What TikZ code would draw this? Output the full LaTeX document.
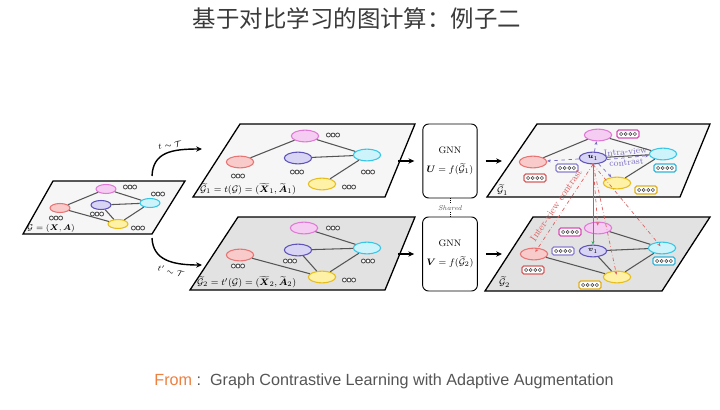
\documentclass[tikz,border=0pt]{standalone}
\usepackage{amsmath}
\usepackage{fontspec}
\usepackage{tikz}
\usetikzlibrary{shapes.geometric,arrows.meta,positioning}
\newfontfamily\cjk{Noto Sans CJK SC}
\newfontfamily\footfont{Liberation Sans}
\definecolor{TitleGray}{HTML}{3A3A3A}
\definecolor{FootGray}{HTML}{555555}
\definecolor{FromOrange}{HTML}{EE8040}
\definecolor{PlateLight}{HTML}{F6F6F6}
\definecolor{PlateGray}{HTML}{E2E2E2}
\definecolor{EdgeGray}{HTML}{555555}
\definecolor{DotGray}{HTML}{4A4A4A}
\definecolor{PinkLine}{HTML}{E07AD6}
\definecolor{PinkFill}{HTML}{F6CDF2}
\definecolor{RedLine}{HTML}{E87474}
\definecolor{RedFill}{HTML}{F9CACA}
\definecolor{PurpleLine}{HTML}{5E54B8}
\definecolor{PurpleFill}{HTML}{D8D4F4}
\definecolor{CyanLine}{HTML}{38C6E6}
\definecolor{CyanFill}{HTML}{CDF3FB}
\definecolor{YellowLine}{HTML}{E6BE1E}
\definecolor{YellowFill}{HTML}{FFF1A6}
\definecolor{BoxPink}{HTML}{D64FB4}
\definecolor{BoxRed}{HTML}{D65E5E}
\definecolor{BoxPurple}{HTML}{8A7ED0}
\definecolor{BoxCyan}{HTML}{2FB5D9}
\definecolor{BoxYellow}{HTML}{E0AE1A}
\definecolor{IntraPurple}{HTML}{7A6CC4}
\definecolor{InterRed}{HTML}{E06060}
\definecolor{InterGreen}{HTML}{2DAA5A}
\tikzset{
  % Panels
  plate/.style={draw=black,line width=1.1pt,fill=PlateLight},
  plateD/.style={plate,fill=PlateGray},
  % Base vertex
  VX/.style={ellipse,draw,line width=0.9pt,inner sep=0pt,
             minimum width=0.82cm,minimum height=0.35cm,
             font=\fontsize{6.5}{7}\selectfont},
  sm/.style={minimum width=0.6cm,minimum height=0.27cm},
  % Colour variants
  vP/.style={VX,fill=PinkFill,  draw=PinkLine},
  vR/.style={VX,fill=RedFill,   draw=RedLine},
  vU/.style={VX,fill=PurpleFill,draw=PurpleLine},
  vC/.style={VX,fill=CyanFill,  draw=CyanLine},
  vY/.style={VX,fill=YellowFill,draw=YellowLine},
  % Edges and arrows
  lnk/.style={draw=EdgeGray,line width=0.9pt},
  arr/.style={-{Stealth[length=5pt,width=4.5pt]},line width=1.2pt},
  intra/.style={-{Stealth[length=3pt,width=2.5pt]},dashed,IntraPurple,line width=0.6pt},
  inter/.style={-{Stealth[length=3pt,width=2.5pt]},dash dot,InterRed,line width=0.6pt},
  % Encoder box
  gnn/.style={draw,rounded corners=5pt,line width=0.8pt,
              minimum width=1.32cm,minimum height=2.22cm,
              align=center,font=\fontsize{8}{9}\selectfont},
  % Labels
  lbl/.style={anchor=west,inner sep=0pt,font=\fontsize{8}{9}\selectfont},
  % Feature vectors
  pics/trio/.style={code={
    \foreach \dx in {-4.6,0,4.6}
      \draw[DotGray,fill=white,line width=0.7pt] (\dx,0) circle (2);
  }},
  pics/quad/.style={code={
    \draw[#1,fill=white,line width=1.1pt,rounded corners=1.5pt] (-11,-4) rectangle (11,4);
    \foreach \dx in {-6.9,-2.3,2.3,6.9}
      \draw[DotGray,fill=white,line width=0.5pt] (\dx,0) circle (1.6);
  }}
}
\begin{document}
\begin{tikzpicture}[x=0.03cm,y=-0.03cm]
  \useasboundingbox[fill=white] (0,0) rectangle (720,409);

  % title and source
  \node[font=\cjk\fontsize{20}{24}\selectfont,text=TitleGray] (title) at (357,18) {基于对比学习的图计算：例子二};
  \node[font=\footfont\fontsize{13.8}{16}\selectfont,text=FootGray] (source) at (384,381)
       {{\color{FromOrange}From} :\ \ Graph Contrastive Learning with Adaptive Augmentation};

  % panels
  \draw[plate]  (53,181) -- (185,181) -- (152,234) -- (23,234) -- cycle;
  \draw[plate]  (240,124) -- (415,124) -- (385,197) -- (193,197) -- cycle;
  \draw[plateD] (238,217) -- (415,217) -- (385,290) -- (190,290) -- cycle;
  \draw[plate]  (537,124) -- (710,124) -- (680,197) -- (487,197) -- cycle;
  \draw[plateD] (533,217) -- (710,217) -- (662,291) -- (485,291) -- cycle;

  % feature vectors
  \pic at (130,187) {trio}; \pic at (158,194) {trio}; \pic at (56,218) {trio};
  \pic at (97,214) {trio};  \pic at (138,228) {trio};
  \pic at (333,135) {trio}; \pic at (238,176) {trio}; \pic at (297,172) {trio};
  \pic at (368,172) {trio}; \pic at (349,187) {trio};
  \pic at (333,228) {trio}; \pic at (238,266) {trio}; \pic at (290,261) {trio};
  \pic at (368,261) {trio}; \pic at (349,280) {trio};
  \pic at (628,134) {quad=BoxPink};   \pic at (567,168) {quad=BoxPurple};
  \pic at (535,178) {quad=BoxRed};    \pic at (665,168) {quad=BoxCyan};
  \pic at (646,190) {quad=BoxYellow};
  \pic at (570,232) {quad=BoxPink};   \pic at (563,251) {quad=BoxPurple};
  \pic at (533,270) {quad=BoxRed};    \pic at (664,261) {quad=BoxCyan};
  \pic at (590,285) {quad=BoxYellow};

  \node[rotate=5,align=center,text=IntraPurple,font=\fontsize{7.8}{9}\selectfont] (intraLab) at (626,157) {Intra-view\\contrast};

  % input graph
  \node[vP,sm] (oP) at (106,189) {};
  \node[vR,sm] (oR) at (60,208)  {};
  \node[vU,sm] (oU) at (101,205) {};
  \node[vC,sm] (oC) at (150,203) {};
  \node[vY,sm] (oY) at (118,224) {};
  % first view
  \node[vP] (aP) at (305,136) {};
  \node[vR] (aR) at (240,162) {};
  \node[vU] (aU) at (298,158) {};
  \node[vC] (aC) at (367,155) {};
  \node[vY] (aY) at (322,184) {};
  % second view
  \node[vP] (bP) at (304,228) {};
  \node[vR] (bR) at (240,255) {};
  \node[vU] (bU) at (298,250) {};
  \node[vC] (bC) at (367,248) {};
  \node[vY] (bY) at (322,277) {};
  % first embedding
  \node[vP] (cP) at (598,135) {};
  \node[vR] (cR) at (533,162) {};
  \node[vU] (cU) at (593,158) {$\boldsymbol{u}_1$};
  \node[vC] (cC) at (663,154) {};
  \node[vY] (cY) at (617,183) {};
  % second embedding
  \node[vP] (dP) at (598,228) {};
  \node[vR] (dR) at (534,254) {};
  \node[vU] (dU) at (593,251) {$\boldsymbol{v}_1$};
  \node[vC] (dC) at (662,248) {};
  \node[vY] (dY) at (617,277) {};

  \draw[lnk] (oR) -- (oP); \draw[lnk] (oR) -- (oY); \draw[lnk] (oP) -- (oC);
  \draw[lnk] (oU) -- (oC); \draw[lnk] (oU) -- (oY); \draw[lnk] (oY) -- (oC);
  \draw[lnk] (aR) -- (aP); \draw[lnk] (aP) -- (aC); \draw[lnk] (aU) -- (aC);
  \draw[lnk] (aC) -- (aY);
  \draw[lnk] (bP) -- (bC); \draw[lnk] (bU) -- (bC); \draw[lnk] (bU) -- (bY);
  \draw[lnk] (bR) -- (bY); \draw[lnk] (bY) -- (bC);
  \draw[lnk] (cR) -- (cP); \draw[lnk] (cP) -- (cC); \draw[lnk] (cU) -- (cC);
  \draw[lnk] (cC) -- (cY);
  \draw[lnk] (dP) -- (dC); \draw[lnk] (dU) -- (dC); \draw[lnk] (dU) -- (dY);
  \draw[lnk] (dR) -- (dY); \draw[lnk] (dY) -- (dC);

  % panel labels
  \node[lbl,font=\fontsize{7}{8}\selectfont] (oLab) at (27,228) {$\mathcal{G} = (\boldsymbol{X}, \boldsymbol{A})$};
  \node[lbl] (aLab) at (200,189) {$\widetilde{\mathcal{G}}_1 = t(\mathcal{G}) = (\widetilde{\boldsymbol{X}}_1, \widetilde{\boldsymbol{A}}_1)$};
  \node[lbl] (bLab) at (197,282) {$\widetilde{\mathcal{G}}_2 = t'(\mathcal{G}) = (\widetilde{\boldsymbol{X}}_2, \widetilde{\boldsymbol{A}}_2)$};
  \node[lbl] (cLab) at (497,190) {$\widetilde{\mathcal{G}}_1$};
  \node[lbl] (dLab) at (499,282) {$\widetilde{\mathcal{G}}_2$};

  % augmentations
  \coordinate (oTop) at (152,176);
  \coordinate (oBot) at (152,238);
  \coordinate (aIn)  at (202,149);
  \coordinate (bIn)  at (202,265);
  \draw[arr] (oTop) .. controls (153,152) and (172,149) .. (aIn);
  \draw[arr] (oBot) .. controls (153,260) and (172,265) .. (bIn);
  \node[font=\fontsize{7}{8}\selectfont,rotate=8]   (tLab)  at (170,145) {$t \sim \mathcal{T}$};
  \node[font=\fontsize{7}{8}\selectfont,rotate=-15] (tpLab) at (171,271) {$t' \sim \mathcal{T}$};

  % shared encoder
  \node[gnn] (gnnA) at (450,161) {GNN\\[7pt]$\boldsymbol{U} = f(\widetilde{\mathcal{G}}_1)$};
  \node[gnn] (gnnB) at (450,254) {GNN\\[7pt]$\boldsymbol{V} = f(\widetilde{\mathcal{G}}_2)$};
  \node[font=\itshape\fontsize{6}{7}\selectfont,text=FootGray,inner sep=1pt] (shared) at (450,208) {Shared};
  \draw[densely dotted,line width=0.6pt] (gnnA.south) -- (shared.north);
  \draw[densely dotted,line width=0.6pt] (shared.south) -- (gnnB.north);

  \coordinate (aOut) at (398,161);
  \coordinate (bOut) at (398,254);
  \coordinate (cIn)  at (502,161);
  \coordinate (dIn)  at (502,254);
  \draw[arr,shorten >=0.24cm] (aOut) -- (gnnA.west);
  \draw[arr,shorten >=0.24cm] (bOut) -- (gnnB.west);
  \draw[arr,shorten <=0.24cm] (gnnA.east) -- (cIn);
  \draw[arr,shorten <=0.24cm] (gnnB.east) -- (dIn);

  % intra-view contrast
  \draw[intra] (cU) -- (cR);
  \draw[intra] (cU) -- (cP);
  \draw[intra] ([yshift=-1.3pt]cU.east) -- ([yshift=-1.3pt]cC.west);
  \draw[intra] (cU) -- (cY);

  % inter-view contrast
  \draw[inter,shorten >=2pt] (cU.south) -- (dR.center);
  \draw[inter,shorten >=2pt] (cU.south) -- (dP.center);
  \draw[inter,shorten >=2pt] (cU.south) -- (dY.center);
  \draw[inter,shorten >=2pt] (cU.south) -- (dC.center);
  \draw[-{Stealth[length=3pt,width=2.5pt]},InterGreen,line width=0.8pt] (cU) -- (dU);
  \node[rotate=56,text=InterRed,font=\fontsize{8.5}{9}\selectfont,inner sep=0pt] (interLab) at (556,205) {Inter-view contrast};
\end{tikzpicture}
\end{document}
